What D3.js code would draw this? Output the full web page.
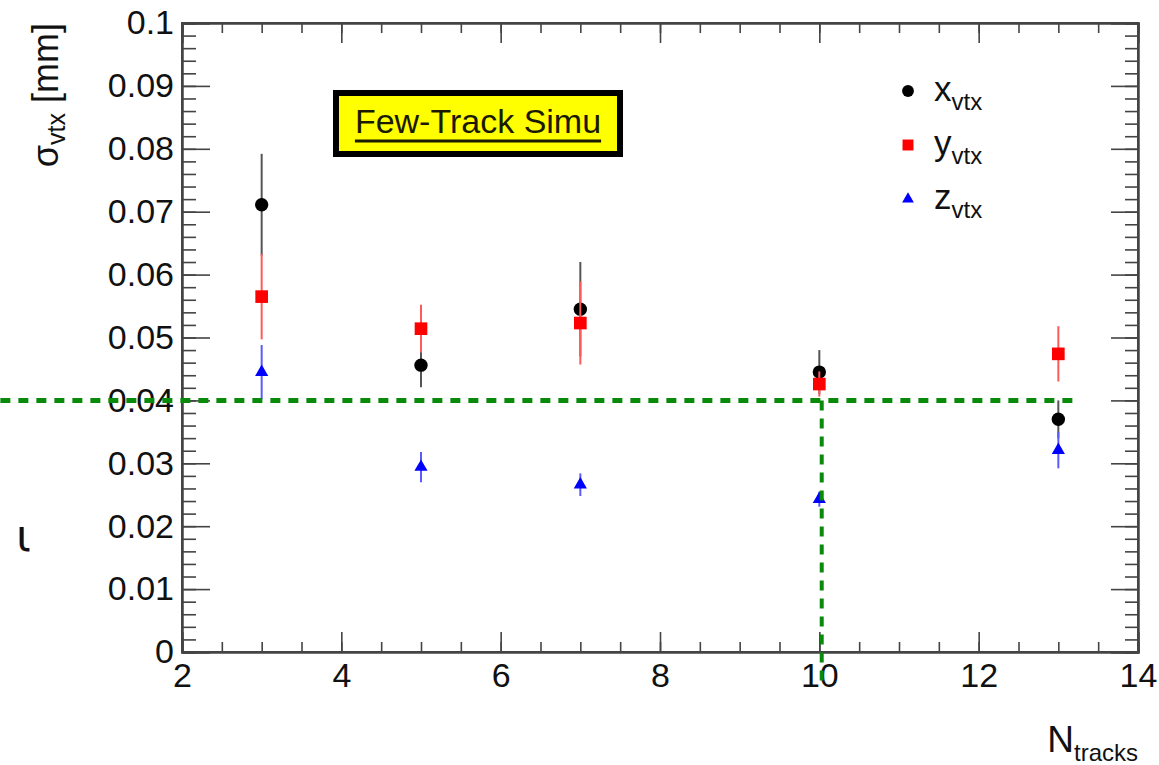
<!DOCTYPE html>
<html>
<head>
<meta charset="utf-8">
<script src="https://cdn.jsdelivr.net/npm/d3@7/dist/d3.min.js"></script>
<style>
  body { margin: 0; background: #fff; }
  text { font-family: "Liberation Sans", Arial, sans-serif; }
</style>
</head>
<body>
<div id="vis"></div>
<script>
(function(){
  // data
  var nTracks = [3, 5, 7, 10, 13];
  var xVtx    = [0.0711, 0.0456, 0.0545, 0.0445, 0.0370];
  var xVtxErr = [0.0081, 0.0035, 0.0075, 0.0035, 0.0030];
  var yVtx    = [0.0565, 0.0514, 0.0523, 0.0426, 0.0474];
  var yVtxErr = [0.0068, 0.0038, 0.0066, 0.0020, 0.0044];
  var zVtx    = [0.0445, 0.0294, 0.0266, 0.0243, 0.0321];
  var zVtxErr = [0.0043, 0.0024, 0.0018, 0.0012, 0.0029];

  var xTicks = [2, 4, 6, 8, 10, 12, 14];
  var yTicks = [0, 0.01, 0.02, 0.03, 0.04, 0.05, 0.06, 0.07, 0.08, 0.09, 0.1];

  // green guide lines (cut level and N=10)
  var guideLevel = 0.04;
  var guideN = 10.03;
  var guideXRange = [-0.28, 13.21];
  var guideYBottom = -0.005;

  var width = 1159;
  var height = 765;
  var margin = { top: 23, left: 182, bottom: 113, right: 21 };

  var svg = d3.select("#vis")
    .append("svg")
    .attr("width", width)
    .attr("height", height);

  var w = width - margin.left - margin.right;
  var h = height - margin.top - margin.bottom;

  var g = svg.append("g")
    .attr("transform", "translate(" + margin.left + "," + margin.top + ")");

  var x_scale = d3.scaleLinear().domain([2, 14]).range([0, w]);
  var y_scale = d3.scaleLinear().domain([0, 0.1]).range([h, 0]);

  var fmtY = function(d) { return d === 0 ? "0" : String(+d.toFixed(2)); };

  // ticks on all four sides, pointing inwards (ROOT style)
  var xMinor = d3.range(2, 14.001, 0.5);
  var yMinor = d3.range(0, 0.10001, 0.002);

  g.append("g")
    .attr("class", "x axis")
    .attr("transform", "translate(0," + h + ")")
    .call(d3.axisBottom(x_scale).tickValues(xTicks).tickSize(-20).tickPadding(11).tickFormat(d3.format("d")));
  g.append("g")
    .attr("transform", "translate(0," + h + ")")
    .call(d3.axisBottom(x_scale).tickValues(xMinor).tickSize(-10).tickFormat(""));
  g.append("g")
    .call(d3.axisTop(x_scale).tickValues(xTicks).tickSize(-20).tickFormat(""));
  g.append("g")
    .call(d3.axisTop(x_scale).tickValues(xMinor).tickSize(-10).tickFormat(""));

  g.append("g")
    .attr("class", "y axis")
    .call(d3.axisLeft(y_scale).tickValues(yTicks).tickSize(-28).tickPadding(8).tickFormat(fmtY));
  g.append("g")
    .call(d3.axisLeft(y_scale).tickValues(yMinor).tickSize(-14).tickFormat(""));
  g.append("g")
    .attr("transform", "translate(" + w + ",0)")
    .call(d3.axisRight(y_scale).tickValues(yTicks).tickSize(-27).tickFormat(""));
  g.append("g")
    .attr("transform", "translate(" + w + ",0)")
    .call(d3.axisRight(y_scale).tickValues(yMinor).tickSize(-13).tickFormat(""));

  g.selectAll(".domain").attr("stroke", "#444").attr("stroke-width", 2);
  g.selectAll(".tick line").attr("stroke", "#444").attr("stroke-width", 1.6);
  g.selectAll(".tick text")
    .attr("fill", "#111")
    .style("font-size", "34px")
    .style("font-family", "'Liberation Sans', Arial, sans-serif");

  // frame
  g.append("rect")
    .attr("width", w).attr("height", h)
    .attr("fill", "none").attr("stroke", "#444").attr("stroke-width", 2);

  // series
  function drawSeries(vals, errs, color, barColor, symbol, size) {
    var rows = nTracks.map(function(n, i) { return { n: n, v: vals[i], e: errs[i] }; });
    g.selectAll(null)
      .data(rows).enter()
      .append("line")
      .attr("x1", function(d) { return x_scale(d.n); })
      .attr("x2", function(d) { return x_scale(d.n); })
      .attr("y1", function(d) { return y_scale(d.v + d.e); })
      .attr("y2", function(d) { return y_scale(d.v - d.e); })
      .attr("stroke", barColor)
      .attr("stroke-width", 2);
    g.selectAll(null)
      .data(rows).enter()
      .append("path")
      .attr("d", d3.symbol().type(symbol).size(size))
      .attr("transform", function(d) { return "translate(" + x_scale(d.n) + "," + y_scale(d.v) + ")"; })
      .attr("fill", color);
  }

  drawSeries(xVtx, xVtxErr, "#000", "#555", d3.symbolCircle, 140);
  drawSeries(yVtx, yVtxErr, "#f00", "#ff5a5a", d3.symbolSquare, 160);
  drawSeries(zVtx, zVtxErr, "#00f", "#5a5aff", d3.symbolTriangle, 75);

  // green dashed guides
  var green = "#0a8a0a";
  g.append("line")
    .attr("x1", x_scale(guideXRange[0])).attr("x2", x_scale(guideXRange[1]))
    .attr("y1", y_scale(guideLevel)).attr("y2", y_scale(guideLevel))
    .attr("stroke", green).attr("stroke-width", 5).attr("stroke-dasharray", "10,8");
  g.append("line")
    .attr("x1", x_scale(guideN)).attr("x2", x_scale(guideN))
    .attr("y1", y_scale(guideLevel)).attr("y2", y_scale(guideYBottom))
    .attr("stroke", green).attr("stroke-width", 4).attr("stroke-dasharray", "10,8");

  // title box
  var box = svg.append("g");
  box.append("rect")
    .attr("x", 333).attr("y", 90).attr("width", 290).attr("height", 67)
    .attr("fill", "#000");
  box.append("rect")
    .attr("x", 339).attr("y", 96).attr("width", 278).attr("height", 55)
    .attr("fill", "#ffff00");
  var title = box.append("text")
    .attr("x", 478).attr("y", 133)
    .attr("text-anchor", "middle")
    .attr("fill", "#1a1a00")
    .style("font-size", "34px")
    .text("Few-Track Simu");
  var tb = title.node().getBBox();
  box.append("line")
    .attr("x1", tb.x).attr("x2", tb.x + tb.width)
    .attr("y1", 141).attr("y2", 141)
    .attr("stroke", "#1a1a00").attr("stroke-width", 3);

  // legend
  var legendNames = ["x", "y", "z"];
  var legendColors = ["#000", "#f00", "#00f"];
  var legendSymbols = [d3.symbolCircle, d3.symbolSquare, d3.symbolTriangle];
  var legendSizes = [110, 120, 60];
  var legend = svg.append("g").attr("transform", "translate(908,91)");
  legendNames.forEach(function(name, i) {
    var row = legend.append("g").attr("transform", "translate(0," + (i * 54) + ")");
    row.append("path")
      .attr("d", d3.symbol().type(legendSymbols[i]).size(legendSizes[i]))
      .attr("fill", legendColors[i]);
    var t = row.append("text")
      .attr("x", 26).attr("y", 10)
      .attr("fill", "#111")
      .style("font-size", "35px")
      .text(name);
    t.append("tspan")
      .attr("dy", 9)
      .style("font-size", "24px")
      .text("vtx");
  });

  // axis titles
  var yTitle = svg.append("text")
    .attr("transform", "translate(58,23) rotate(-90)")
    .attr("text-anchor", "end")
    .attr("fill", "#111")
    .style("font-size", "36px");
  yTitle.append("tspan").text("\u03c3");
  yTitle.append("tspan").attr("dy", 7).style("font-size", "25px").text("vtx");
  yTitle.append("tspan").attr("dy", -7).text(" [mm]");

  var xTitle = svg.append("text")
    .attr("x", 1138).attr("y", 752)
    .attr("text-anchor", "end")
    .attr("fill", "#111")
    .style("font-size", "37px");
  xTitle.append("tspan").text("N");
  xTitle.append("tspan").attr("dy", 9).style("font-size", "24px").text("tracks");

  // stray glyph at the left edge of the picture
  svg.append("text")
    .attr("x", 16).attr("y", 551)
    .attr("fill", "#111")
    .style("font-size", "44px")
    .style("font-family", "'DejaVu Sans', sans-serif")
    .text("\u03b9");
})();
</script>
</body>
</html>
